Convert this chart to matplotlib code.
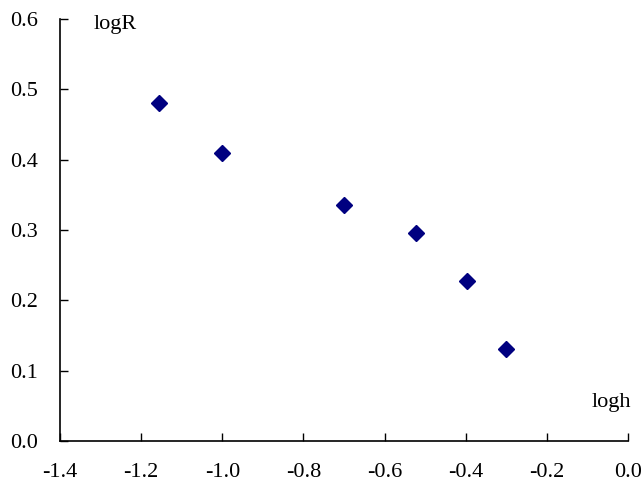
import matplotlib
matplotlib.use("Agg")
import matplotlib.pyplot as plt

# data
log_h = [-1.155, -1.0, -0.699, -0.523, -0.398, -0.301]
log_r = [0.481, 0.409, 0.335, 0.296, 0.228, 0.131]
x_ticks = [-1.4, -1.2, -1.0, -0.8, -0.6, -0.4, -0.2, 0.0]
y_ticks = [0.0, 0.1, 0.2, 0.3, 0.4, 0.5, 0.6]

plt.rcParams["font.family"] = ["Liberation Serif", "DejaVu Serif"]

fig = plt.figure(figsize=(6.44, 4.82), dpi=100)
ax = fig.add_axes([0.0932, 0.0851, 0.882, 0.8755])
ax.plot(log_h, log_r, linestyle="none", marker="D", markersize=8.5, color="#000080")

ax.set_xlim(-1.4, 0.0)
ax.set_ylim(0.0, 0.6)
ax.set_xticks(x_ticks)
ax.set_yticks(y_ticks)
ax.set_xticklabels([f"{v:.1f}" for v in x_ticks])
ax.set_yticklabels([f"{v:.1f}" for v in y_ticks])
ax.tick_params(direction="in", length=6, width=1, labelsize=16)
ax.tick_params(axis="x", pad=15.5)
ax.tick_params(axis="y", pad=16)
for side in ("top", "right"):
    ax.spines[side].set_visible(False)
for side in ("left", "bottom"):
    ax.spines[side].set_linewidth(1.2)

ax.text(0.059, 1.01, "logR", transform=ax.transAxes, fontsize=16, ha="left", va="top")
ax.text(0.97, 0.068, "logh", transform=ax.transAxes, fontsize=16, ha="center", va="bottom")

fig.savefig("out.png", dpi=100)
